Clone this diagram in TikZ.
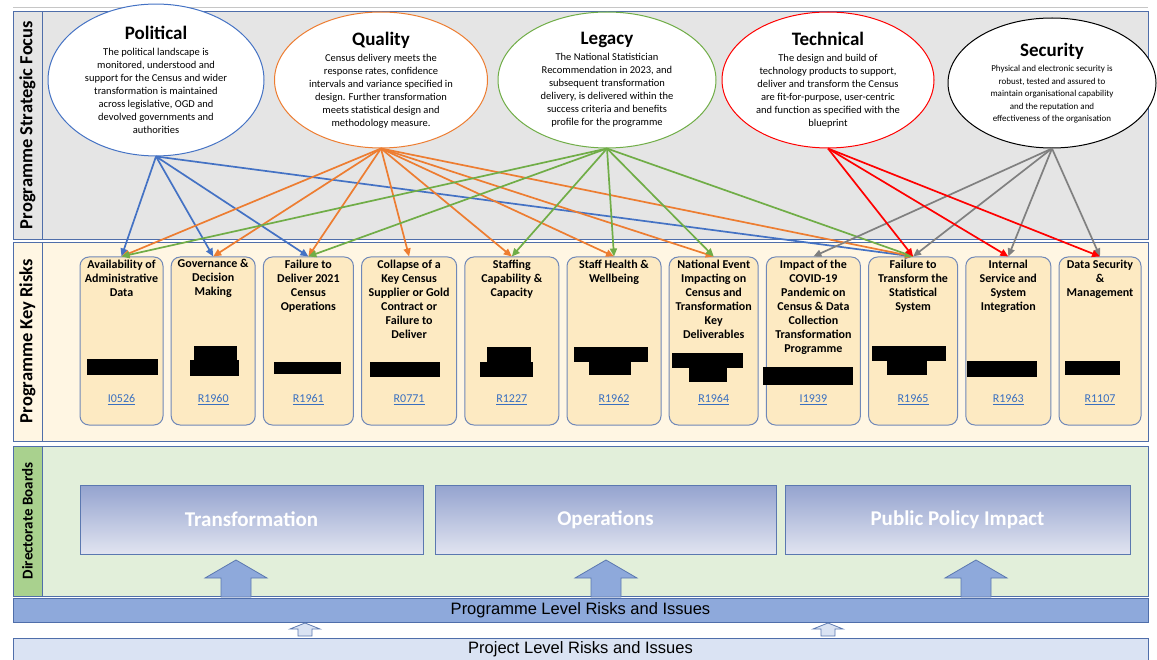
\documentclass[tikz,border=0pt]{standalone}
\usepackage{fontspec}
\setmainfont{Carlito}
\newfontfamily\barfont{Liberation Sans}
\usepackage{tikz}
\usetikzlibrary{arrows.meta}
\usetikzlibrary{shapes.geometric}
\usetikzlibrary{positioning}

\definecolor{polblue}{HTML}{4472C4}
\definecolor{qualorange}{HTML}{ED7D31}
\definecolor{leggreen}{HTML}{70AD47}
\definecolor{techred}{HTML}{FF0000}
\definecolor{secgray}{HTML}{808080}
\definecolor{bandline}{HTML}{4F6EAA}
\definecolor{focusgray}{HTML}{E5E5E5}
\definecolor{riskcream}{HTML}{FFF6E3}
\definecolor{riskfill}{HTML}{FDEAC2}
\definecolor{riskedge}{HTML}{7088B8}
\definecolor{linkblue}{HTML}{3A70C0}
\definecolor{boardgreen}{HTML}{E2EFDA}
\definecolor{boardlabel}{HTML}{A9D18E}
\definecolor{boardtop}{HTML}{94A3CF}
\definecolor{boardbot}{HTML}{E1E4F0}
\definecolor{boardedge}{HTML}{5B78B0}
\definecolor{progbar}{HTML}{8EA9DB}
\definecolor{projbar}{HTML}{DAE3F3}

\begin{document}
\begin{tikzpicture}[x=1pt,y=-1pt,
	band/.style={draw=bandline,line width=0.9pt},
	band label/.style={rotate=90,font=\fontsize{18.5}{20}\selectfont\bfseries},
	focus node/.style={ellipse,fill=white,line width=1pt,minimum height=136pt,
		inner sep=0pt,align=center,font=\fontsize{10.5}{13}\selectfont},
	focus title/.style={font=\fontsize{19}{19}\selectfont\bfseries},
	risk node/.style={rectangle,rounded corners=9pt,draw=riskedge,fill=riskfill,
		line width=1pt,minimum height=168pt,inner sep=0pt},
	risk title/.style={anchor=north,align=center,inner sep=0pt,
		font=\fontsize{12}{14}\selectfont\bfseries},
	risk ref/.style={anchor=south,inner sep=0pt,text=linkblue,
		font=\fontsize{12}{13}\selectfont},
	board node/.style={draw=boardedge,line width=0.8pt,top color=boardtop,
		bottom color=boardbot,minimum height=69pt,text=white,
		font=\fontsize{21}{22}\selectfont\bfseries},
	bar node/.style={draw=bandline,line width=0.8pt,minimum width=1135pt,
		inner sep=0pt,font=\barfont\fontsize{16.5}{18}\selectfont},
	block arrow/.style={draw=boardedge,fill=progbar,line width=0.8pt},
	link/.style={-{Triangle[length=8pt,width=7pt]},line width=1.7pt}]

	\useasboundingbox (0,0) rectangle (1157,660);

	\draw[gray!45,line width=1pt] (13,8) -- (1148,8);
	\draw[band,fill=focusgray] (13,11) rectangle (1148,239);
	\draw[band,fill=focusgray] (13,11) rectangle (42,239);
	\draw[band,fill=riskcream] (13,242) rectangle (1148,441);
	\draw[band,fill=riskcream] (13,242) rectangle (42,441);
	\draw[band,fill=boardgreen] (13,446) rectangle (1148,596);
	\draw[band,fill=boardlabel] (13,446) rectangle (42,596);

	\node[band label] (focuslbl) at (27.5,125) {Programme Strategic Focus};
	\node[band label] (risklbl) at (27.5,341) {Programme Key Risks};
	\node[band label,font=\fontsize{15}{16}\selectfont\bfseries] (boardlbl) at (27.5,521) {Directorate Boards};

	\node[focus node,draw=polblue,minimum width=216pt] (pol) at (156,80)
		{{\fontsize{19}{19}\selectfont\bfseries Political}\\[3pt]
		The political landscape is\\ monitored, understood and\\
		support for the Census and wider\\ transformation is maintained\\
		across legislative, OGD and\\ devolved governments and\\ authorities};
	\node[focus node,draw=qualorange,minimum width=213pt] (qual) at (381,80)
		{{\fontsize{19}{19}\selectfont\bfseries Quality}\\[3pt]
		Census delivery meets the\\ response rates, confidence\\
		intervals and variance specified in\\ design. Further transformation\\
		meets statistical design and\\ methodology measure.};
	\node[focus node,draw=leggreen,minimum width=218pt] (leg) at (607,80)
		{{\fontsize{19}{19}\selectfont\bfseries Legacy}\\[3pt]
		The National Statistician\\ Recommendation in 2023, and\\
		subsequent transformation\\ delivery, is delivered within the\\
		success criteria and benefits\\ profile for the programme};
	\node[focus node,draw=techred,minimum width=212pt] (tech) at (828,80)
		{{\fontsize{19}{19}\selectfont\bfseries Technical}\\[3pt]
		The design and build of\\ technology products to support,\\
		deliver and transform the Census\\ are fit-for-purpose, user-centric\\
		and function as specified with the\\ blueprint};
	\node[focus node,draw=black,minimum width=208pt,minimum height=130pt,
		font=\fontsize{9}{12.5}\selectfont] (sec) at (1052,83)
		{{\fontsize{19}{19}\selectfont\bfseries Security}\\[3pt]
		Physical and electronic security is\\ robust, tested and assured to\\
		maintain organisational capability\\ and the reputation and\\
		effectiveness of the organisation};

	\node[risk node,minimum width=83pt] (r1) at (121.5,341) {};
	\node[risk node,minimum width=84pt] (r2) [right=7.2pt of r1] {};
	\node[risk node,minimum width=90pt] (r3) [right=7.2pt of r2] {};
	\node[risk node,minimum width=95pt] (r4) [right=7.2pt of r3] {};
	\node[risk node,minimum width=94pt] (r5) [right=7.2pt of r4] {};
	\node[risk node,minimum width=94pt] (r6) [right=7.2pt of r5] {};
	\node[risk node,minimum width=89pt] (r7) [right=7.2pt of r6] {};
	\node[risk node,minimum width=94pt] (r8) [right=7.2pt of r7] {};
	\node[risk node,minimum width=89pt] (r9) [right=7.2pt of r8] {};
	\node[risk node,minimum width=85pt] (r10) [right=7.2pt of r9] {};
	\node[risk node,minimum width=82pt] (r11) [right=7.2pt of r10] {};

	\node[risk title] (t1) [below=3pt of r1.north] {Availability of\\ Administrative\\ Data};
	\node[risk title] (t2) [below=3pt of r2.north] {Governance \&\\ Decision\\ Making};
	\node[risk title] (t3) [below=3pt of r3.north] {Failure to\\ Deliver 2021\\ Census\\ Operations};
	\node[risk title] (t4) [below=3pt of r4.north] {Collapse of a\\ Key Census\\ Supplier or Gold\\ Contract or\\ Failure to\\ Deliver};
	\node[risk title] (t5) [below=3pt of r5.north] {Staffing\\ Capability \&\\ Capacity};
	\node[risk title] (t6) [below=3pt of r6.north] {Staff Health \&\\ Wellbeing};
	\node[risk title] (t7) [below=3pt of r7.north] {National Event\\ Impacting on\\ Census and\\ Transformation\\ Key\\ Deliverables};
	\node[risk title] (t8) [below=3pt of r8.north] {Impact of the\\ COVID-19\\ Pandemic on\\ Census \& Data\\ Collection\\ Transformation\\ Programme};
	\node[risk title] (t9) [below=3pt of r9.north] {Failure to\\ Transform the\\ Statistical\\ System};
	\node[risk title] (t10) [below=3pt of r10.north] {Internal\\ Service and\\ System\\ Integration};
	\node[risk title] (t11) [below=3pt of r11.north] {Data Security\\ \&\\ Management};

	\fill (87,359) rectangle (158,375);
	\fill (194,346) rectangle (237,360); \fill (190,360) rectangle (239,376);
	\fill (274,362) rectangle (341,374);
	\fill (370,362) rectangle (440,377);
	\fill (487,347) rectangle (531,362); \fill (480,362) rectangle (533,377);
	\fill (574,347) rectangle (648,362); \fill (589,362) rectangle (631,375);
	\fill (672,353) rectangle (743,368); \fill (689,368) rectangle (727,382);
	\fill (763,367) rectangle (853,385);
	\fill (872,346) rectangle (946,361); \fill (887,361) rectangle (927,375);
	\fill (967,361) rectangle (1037,377);
	\fill (1065,361) rectangle (1120,375);

	\node[risk ref] (ref1) [above=21pt of r1.south] {\underline{I0526}};
	\node[risk ref] (ref2) [above=21pt of r2.south] {\underline{R1960}};
	\node[risk ref] (ref3) [above=21pt of r3.south] {\underline{R1961}};
	\node[risk ref] (ref4) [above=21pt of r4.south] {\underline{R0771}};
	\node[risk ref] (ref5) [above=21pt of r5.south] {\underline{R1227}};
	\node[risk ref] (ref6) [above=21pt of r6.south] {\underline{R1962}};
	\node[risk ref] (ref7) [above=21pt of r7.south] {\underline{R1964}};
	\node[risk ref] (ref8) [above=21pt of r8.south] {\underline{I1939}};
	\node[risk ref] (ref9) [above=21pt of r9.south] {\underline{R1965}};
	\node[risk ref] (ref10) [above=21pt of r10.south] {\underline{R1963}};
	\node[risk ref] (ref11) [above=21pt of r11.south] {\underline{R1107}};

	\path[link,polblue]
	(pol.south) edge (r1.north)
	(pol.south) edge (r2.north)
	(pol.south) edge (r3.north)
	(pol.south) edge (r9.north);
	\path[link,qualorange]
	(qual.south) edge (r1.north)
	(qual.south) edge (r2.north)
	(qual.south) edge (r3.north)
	(qual.south) edge (r4.north)
	(qual.south) edge (r5.north)
	(qual.south) edge (r6.north)
	(qual.south) edge (r7.north)
	(qual.south) edge (r9.north);
	\path[link,leggreen]
	(leg.south) edge (r1.north)
	(leg.south) edge (r3.north)
	(leg.south) edge (r5.north)
	(leg.south) edge (r6.north)
	(leg.south) edge (r7.north)
	(leg.south) edge (r9.north);
	\path[link,secgray]
	(sec.south) edge (r8.north)
	(sec.south) edge (r9.north)
	(sec.south) edge (r10.north)
	(sec.south) edge (r11.north);
	\path[link,techred]
	(tech.south) edge (r9.north)
	(tech.south) edge (r10.north)
	(tech.south) edge (r11.north);

	\node[board node,minimum width=343pt] (trans) at (251.5,519.5) {Transformation};
	\node[board node,minimum width=341pt] (ops) at (605.5,519.5) {Operations};
	\node[board node,minimum width=345pt] (ppi) at (957.5,519.5) {Public Policy Impact};

	\foreach \ax in {236,606,976}
		\draw[block arrow] (\ax-15,597) -- (\ax-15,578) -- (\ax-31,578) -- (\ax,560)
			-- (\ax+31,578) -- (\ax+15,578) -- (\ax+15,597) -- cycle;

	\node[bar node,fill=progbar,minimum height=24pt] (prog) at (580.5,610) {Programme Level Risks and Issues};
	\node[bar node,fill=projbar,minimum height=22pt] (proj) at (580.5,649) {Project Level Risks and Issues};

	\foreach \ax in {305,828}
		\draw[block arrow,fill=projbar] (\ax-7,636) -- (\ax-7,629) -- (\ax-15,629) -- (\ax,623)
			-- (\ax+15,629) -- (\ax+7,629) -- (\ax+7,636) -- cycle;
\end{tikzpicture}
\end{document}
